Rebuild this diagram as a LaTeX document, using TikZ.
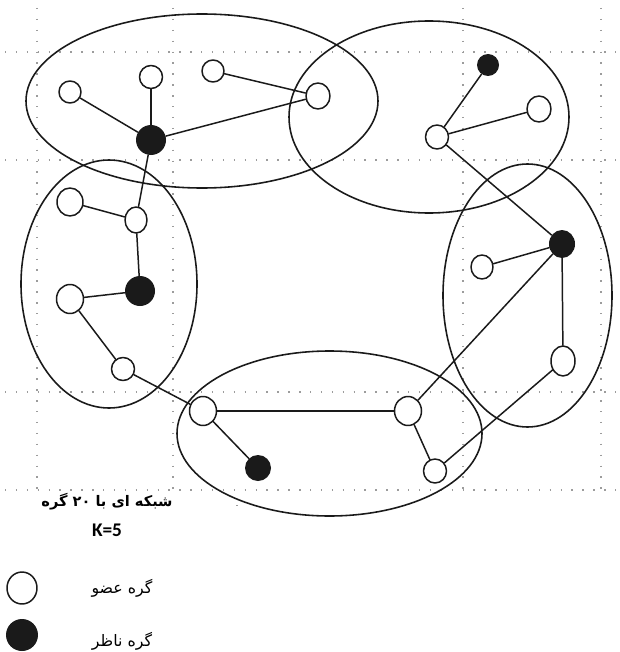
\documentclass[tikz,border=0pt]{standalone}
\usepackage{fontspec}
\usepackage{xcolor}
\usetikzlibrary{
  shapes.geometric
}
\TeXXeTstate=1
\newfontfamily\persianfont[Script=Arabic]{DejaVu Sans}
\newfontfamily\latinfont{Carlito}
\definecolor{inkC}{HTML}{1A1A1A}
\definecolor{paperC}{HTML}{FFFFFF}
\definecolor{gridC}{HTML}{9C9C9C}

\begin{document}
\begin{tikzpicture}[
  x=0.02cm,
  y=-0.02cm,
  line cap=round,
  line join=round,
  member/.style={ellipse, draw=inkC, fill=paperC, line width=0.85pt, inner sep=0pt},
  observer/.style={ellipse, fill=inkC, inner sep=0pt},
  link/.style={draw=inkC, line width=0.85pt},
  cluster/.style={draw=inkC, line width=0.9pt},
  gridline/.style={gridC, line width=0.8pt, line cap=butt, dash pattern=on 0.8pt off 5.4pt}
]

\useasboundingbox (0,0) rectangle (619,652);

% Faint dotted grid behind the network.
\foreach \gx in {37,173,463,601}{
  \draw[gridline] (\gx,8) -- (\gx,490);
}
\foreach \gy in {52,160,392,490}{
  \draw[gridline] (5,\gy) -- (619,\gy);
}
\draw[gridline] (237,505) -- (237,515);

% Clusters (K=5).
\draw[cluster] (202,101) ellipse [x radius=176, y radius=87];
\draw[cluster] (429,117) ellipse [x radius=140, y radius=96];
\draw[cluster] (109,284) ellipse [x radius=88, y radius=124];
\draw[cluster] (527.5,295.5) ellipse [x radius=84.5, y radius=131.5];
\draw[cluster] (329.5,433.5) ellipse [x radius=152.5, y radius=82.5];

% Member nodes.
\foreach \n/\x/\y/\w/\h in {
  m1/70/92/22/22, m2/151/77/23/23, m3/213/71/22/22, m4/318/96/24/26,
  m5/539/109/24/26, m6/437/137/23/24,
  m7/70/202/26/28, m8/136/220/22/26, m9/70/299/27/29, m10/123/369/23/23,
  m11/482/267/22/24, m12/563/361/24/30,
  m13/203/411/27/29, m14/408/411/27/29, m15/435/471/23/24}{
  \node[member, minimum width=\w*0.02cm, minimum height=\h*0.02cm] (\n) at (\x,\y) {};
}

% Observer nodes.
\foreach \n/\x/\y/\w/\h in {
  o1/151/140/30/30, o2/488/65/22/22, o3/140/291/30/30,
  o4/562/244/26/28, o5/258/468/26/26}{
  \node[observer, minimum width=\w*0.02cm, minimum height=\h*0.02cm] (\n) at (\x,\y) {};
}

% Links.
\foreach \a/\b in {o1/m1, o1/m2, o1/m4, m3/m4, o1/m8, m8/m7, m8/o3, o3/m9,
  m9/m10, m10/m13, m13/m14, m13/o5, m14/m15, m14/o4, m15/m12, o4/m12,
  o4/m11, m6/o4, m6/o2, m6/m5}{
  \draw[link] (\a) -- (\b);
}

% Caption.
\node (title) at (107,502) {\persianfont\bfseries\fontsize{8.3}{10}\selectfont\beginR شبکه ای با \beginL۲۰\endL{} گره\endR};
\node (kval) at (107,530) {\latinfont\bfseries\fontsize{11}{13}\selectfont K=5};

% Legend.
\node[member, minimum width=0.60cm, minimum height=0.64cm] (keyM) at (22,588) {};
\node[observer, minimum width=0.64cm, minimum height=0.64cm] (keyO) at (22,635) {};
\node (keyMtext) at (122,588) {\persianfont\fontsize{9}{11}\selectfont\beginR گره عضو\endR};
\node (keyOtext) at (122,641) {\persianfont\fontsize{9}{11}\selectfont\beginR گره ناظر\endR};

\end{tikzpicture}
\end{document}
